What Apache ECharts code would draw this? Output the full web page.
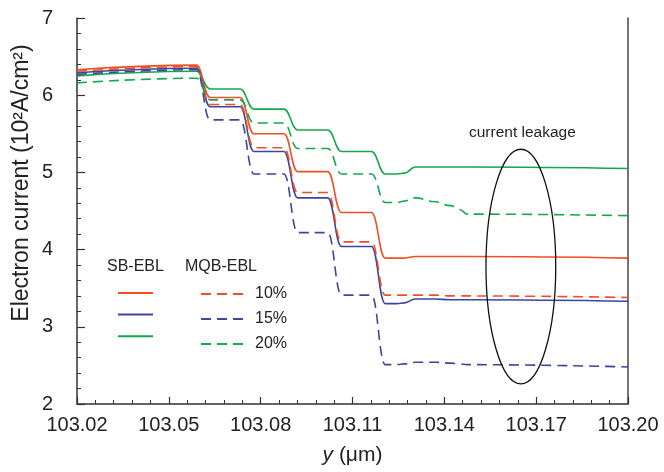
<!DOCTYPE html>
<html>
<head>
<meta charset="utf-8">
<script src="https://cdn.jsdelivr.net/npm/echarts@6/dist/echarts.min.js"></script>
<style>html,body{margin:0;padding:0;background:#fff}#c{width:664px;height:472px}</style>
</head>
<body>
<div id="c"></div>
<script>
// ---- data ----
const xValues = [103.020, 103.0590, 103.0635, 103.0733, 103.0778, 103.0876, 103.0921, 103.1019, 103.1064, 103.1162, 103.1207, 103.1245, 103.1270, 103.1305, 103.1370, 103.1420, 103.1450, 103.1475, 103.2000];
const sb10  = [6.33, 6.39, 5.97, 5.97, 5.50, 5.50, 5.01, 5.01, 4.48, 4.48, 3.89, 3.89, 3.89, 3.91, 3.91, 3.91, 3.91, 3.91, 3.89];
const sb15  = [6.29, 6.35, 5.85, 5.85, 5.27, 5.27, 4.67, 4.67, 4.04, 4.04, 3.30, 3.30, 3.31, 3.36, 3.36, 3.35, 3.35, 3.35, 3.33];
const sb20  = [6.25, 6.31, 6.08, 6.08, 5.82, 5.82, 5.55, 5.55, 5.27, 5.27, 4.98, 4.98, 4.99, 5.07, 5.07, 5.07, 5.07, 5.07, 5.05];
const mqb10 = [6.31, 6.37, 5.88, 5.88, 5.32, 5.32, 4.74, 4.74, 4.10, 4.10, 3.41, 3.41, 3.41, 3.41, 3.41, 3.40, 3.40, 3.40, 3.38];
const mqb15 = [6.27, 6.33, 5.68, 5.68, 4.98, 4.98, 4.22, 4.22, 3.41, 3.41, 2.51, 2.51, 2.52, 2.54, 2.54, 2.53, 2.52, 2.51, 2.48];
const mqb20 = [6.16, 6.22, 5.94, 5.94, 5.64, 5.64, 5.31, 5.31, 4.98, 4.98, 4.61, 4.61, 4.63, 4.67, 4.62, 4.57, 4.52, 4.46, 4.44];
const percentLabels = ['10%', '15%', '20%'];
const groupLabels = ['SB-EBL', 'MQB-EBL'];
const xTickMin = 103.02, xTickMax = 103.20, xTickStep = 0.03;
const yTickMin = 2, yTickMax = 7, yTickStep = 1;
const yTitle = 'Electron current (10²A/cm²)';
const leakageEllipse = [103.165, 3.78, 0.0114, 1.52]; // center x, center y, radius x, radius y
const leakageText = 'current leakage';
const leakageTextPos = [103.1655, 5.51];

// ---- styling ----
const RED = '#f04e23', BLUE = '#3b469c', GREEN = '#13a84b';
const FONT = 'Liberation Sans, Arial, sans-serif';
const DASH = [10, 6];

function pairs(ys) { return xValues.map((x, i) => [x, ys[i]]); }
function lineSeries(name, ys, color, dashed) {
  return {
    type: 'line', name: name, data: pairs(ys), symbol: 'none', showSymbol: false,
    smooth: 0.45, smoothMonotone: 'x',
    lineStyle: { color: color, width: 1.6, type: dashed ? DASH : 'solid' },
    itemStyle: { color: color }, z: 3, silent: true
  };
}

const chart = echarts.init(document.getElementById('c'), null, { renderer: 'canvas' });
const option = {
  animation: false,
  backgroundColor: '#fff',
  grid: { left: 77, right: 36, top: 18, bottom: 68 },
  xAxis: {
    type: 'value', min: xTickMin, max: xTickMax, interval: xTickStep,
    name: '{i|y} (μm)', nameLocation: 'middle', nameGap: 41,
    nameTextStyle: { fontFamily: FONT, fontSize: 21, color: '#222', rich: { i: { fontStyle: 'italic', fontFamily: FONT, fontSize: 21, color: '#222' } } },
    axisLine: { lineStyle: { color: '#333', width: 1.5 } },
    axisTick: { inside: true, length: 7, lineStyle: { color: '#333', width: 1.2 } },
    minorTick: { show: true, splitNumber: 5, length: 4, lineStyle: { color: '#333', width: 1 } },
    axisLabel: { fontFamily: FONT, fontSize: 20, color: '#222', margin: 11, formatter: v => v.toFixed(2) },
    splitLine: { show: false }
  },
  yAxis: [{
    type: 'value', min: yTickMin, max: yTickMax, interval: yTickStep,
    axisLine: { lineStyle: { color: '#333', width: 1.5 } },
    axisTick: { inside: true, length: 8, lineStyle: { color: '#333', width: 1.2 } },
    minorTick: { show: true, splitNumber: 5, length: 4, lineStyle: { color: '#333', width: 1 } },
    axisLabel: { fontFamily: FONT, fontSize: 20, color: '#222', margin: 24 },
    splitLine: { show: false }
  }, {
    type: 'value', min: yTickMin, max: yTickMax, interval: yTickStep, position: 'right',
    axisLine: { show: true, lineStyle: { color: '#444', width: 1.5 } },
    axisTick: { show: false }, axisLabel: { show: false }, splitLine: { show: false }
  }],
  legend: [{
    data: ['SB 10%', 'SB 15%', 'SB 20%'], orient: 'vertical', left: 112, top: 281,
    itemWidth: 35, itemHeight: 14, itemGap: 9, formatter: () => '', selectedMode: false,
    itemStyle: { opacity: 0 }, textStyle: { fontSize: 16 }
  }, {
    data: percentLabels, orient: 'vertical', left: 195, top: 281,
    itemWidth: 43, itemHeight: 14, itemGap: 9, selectedMode: false,
    itemStyle: { opacity: 0 },
    textStyle: { fontFamily: FONT, fontSize: 16, color: '#222', padding: [0, 0, 0, 6] }
  }],
  graphic: [
    { type: 'text', left: 107, top: 259, style: { text: groupLabels[0], fontFamily: FONT, fontSize: 16, fill: '#222' } },
    { type: 'text', left: 185, top: 259, style: { text: groupLabels[1], fontFamily: FONT, fontSize: 16, fill: '#222' } },
    { type: 'text', x: 22, y: 183, rotation: Math.PI / 2, style: { text: yTitle, fontFamily: FONT, fontSize: 23, fill: '#222', align: 'center', verticalAlign: 'middle' } }
  ],
  series: [
    lineSeries('SB 10%', sb10, RED, false),
    lineSeries('SB 15%', sb15, BLUE, false),
    lineSeries('SB 20%', sb20, GREEN, false),
    lineSeries(percentLabels[0], mqb10, RED, true),
    lineSeries(percentLabels[1], mqb15, BLUE, true),
    lineSeries(percentLabels[2], mqb20, GREEN, true),
    {
      type: 'custom', name: 'leakage', silent: true, z: 5,
      data: [leakageEllipse],
      renderItem: function (params, api) {
        const c = api.coord([api.value(0), api.value(1)]);
        const s = api.size([api.value(2), api.value(3)]);
        const t = api.coord(leakageTextPos);
        return {
          type: 'group', children: [
            { type: 'ellipse', shape: { cx: c[0], cy: c[1], rx: s[0], ry: s[1] }, style: { fill: 'none', stroke: '#111', lineWidth: 1.3 } },
            { type: 'text', x: t[0], y: t[1], style: { text: leakageText, fontFamily: FONT, fontSize: 15.5, fill: '#222', align: 'center', verticalAlign: 'middle' } }
          ]
        };
      }
    }
  ]
};
chart.setOption(option);
</script>
</body>
</html>
